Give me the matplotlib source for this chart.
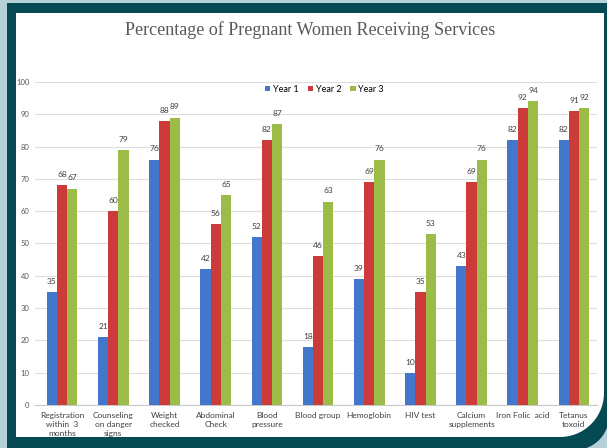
import numpy as np
import matplotlib
matplotlib.use("Agg")
import matplotlib.pyplot as plt
from matplotlib.path import Path
from matplotlib.patches import PathPatch

# data
categories = ["Registration\nwithin  3\nmonths", "Counseling\non danger\nsigns", "Weight\nchecked",
              "Abdominal\nCheck", "Blood\npressure", "Blood group", "Hemoglobin", "HIV test",
              "Calcium\nsupplements", "Iron Folic  acid", "Tetanus\ntoxoid"]
year1 = [35, 21, 76, 42, 52, 18, 39, 10, 43, 82, 82]
year2 = [68, 60, 88, 56, 82, 46, 69, 35, 69, 92, 91]
year3 = [67, 79, 89, 65, 87, 63, 76, 53, 76, 94, 92]
series_names = ["Year 1", "Year 2", "Year 3"]
colors = ["#4377cc", "#cc3a3a", "#9bbd47"]

W, H = 607, 448
fig = plt.figure(figsize=(W / 100, H / 100), dpi=100)
fig.patch.set_facecolor("#b5d0d6")

# frame in pixel coordinates (y down)
bg = fig.add_axes([0, 0, 1, 1])
bg.set_xlim(0, W)
bg.set_ylim(H, 0)
bg.axis("off")


def rounded_box(x0, y0, x1, y1, r):
    t = np.linspace(0, np.pi / 2, 20)
    cx, cy = x1 - r, y1 - r
    arc = np.column_stack([cx + r * np.cos(t), cy + r * np.sin(t)])
    pts = [(x0, y0), (x1, y0)] + [tuple(p) for p in arc] + [(x0, y1), (x0, y0)]
    return Path(pts)


bg.add_patch(PathPatch(rounded_box(7, 3, W + 2, H + 2, 34), facecolor="#054a53", edgecolor="none"))
bg.add_patch(PathPatch(rounded_box(16, 13, 604, 437, 44), facecolor="white", edgecolor="none"))

bg.text(310, 30, "Percentage of Pregnant Women Receiving Services", ha="center", va="center",
        fontsize=13, color="#595959", family=["Liberation Serif", "DejaVu Serif"])

ax = fig.add_axes([35 / W, 1 - 405 / H, (597 - 35) / W, (405 - 82) / H])
ax.set_facecolor("none")

x = np.arange(len(categories))
w = 0.2
for i, (vals, name, c) in enumerate(zip([year1, year2, year3], series_names, colors)):
    bars = ax.bar(x + (i - 1) * w, vals, w, color=c, label=name, zorder=3)
    for b, v in zip(bars, vals):
        ax.text(b.get_x() + b.get_width() / 2, v + 2.2, str(v), ha="center", va="bottom",
                fontsize=6, color="#404040", family="Lato")

ax.set_xlim(-0.53, 10.45)
ax.set_ylim(0, 100)
ax.set_yticks(range(0, 101, 10))
ax.set_xticks(x)
ax.set_xticklabels(categories, fontsize=6, color="#404040", family="Lato", linespacing=1.3)
ax.tick_params(axis="y", labelsize=5.5, labelcolor="#595959", length=0, pad=4)
ax.tick_params(axis="x", length=0, pad=5)
for lab in ax.get_yticklabels():
    lab.set_family("Lato")
ax.grid(axis="y", color="#dedede", linewidth=0.8, zorder=0)
for s in ["top", "right", "left"]:
    ax.spines[s].set_visible(False)
ax.spines["bottom"].set_color("#c8c8c8")

ax.legend(loc="center", bbox_to_anchor=(0.515, 0.978), ncol=3, frameon=False,
          handlelength=0.6, handleheight=0.6, handletextpad=0.3, columnspacing=1.0,
          prop={"family": "Lato", "size": 6.5})

fig.savefig("out.png", dpi=100, facecolor=fig.get_facecolor())
